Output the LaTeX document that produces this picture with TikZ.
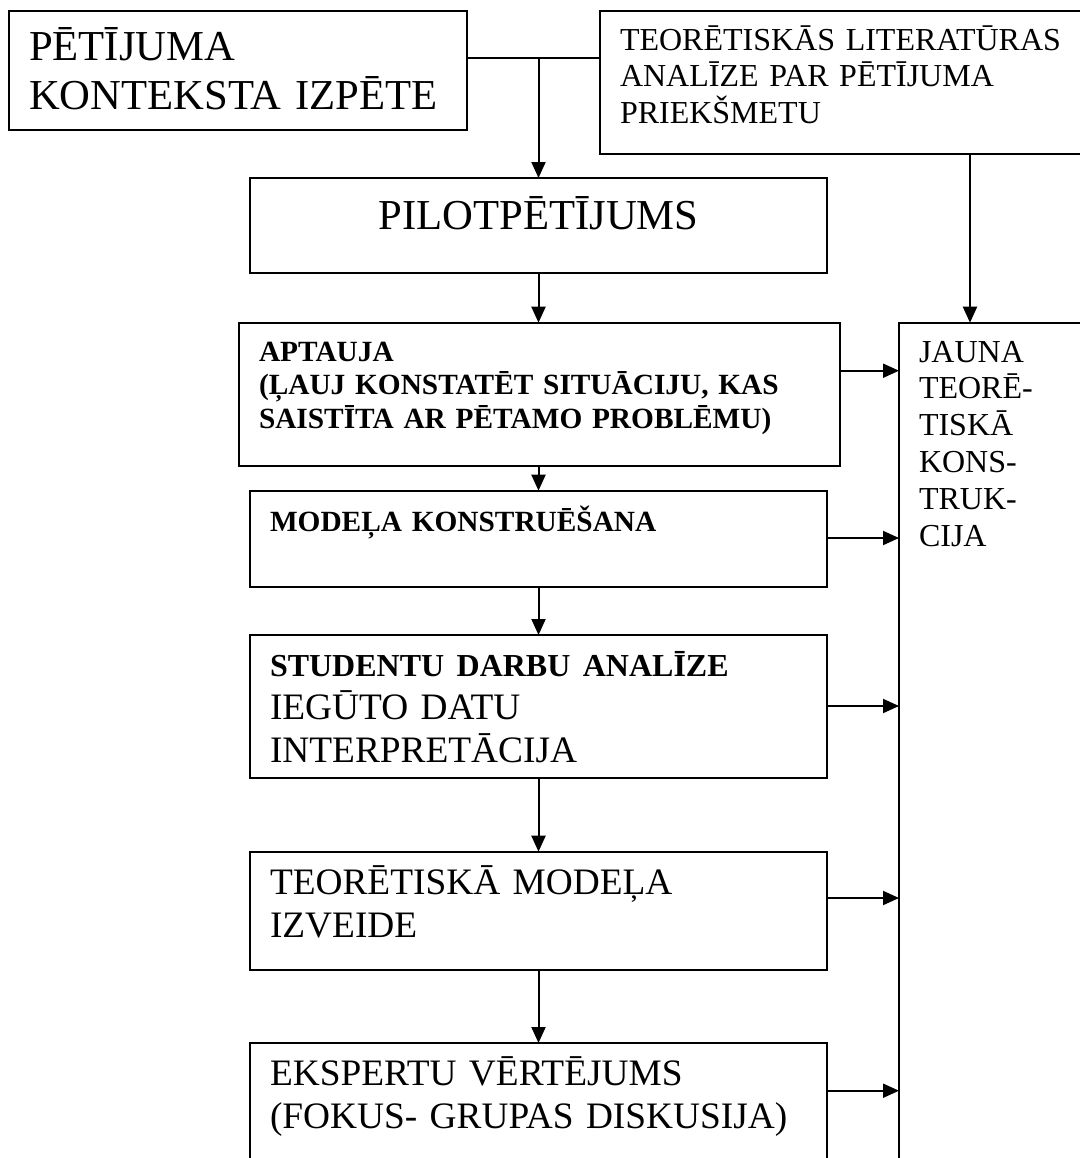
\documentclass[tikz,border=0pt]{standalone}
\usepackage{fontspec}
\setmainfont{Liberation Serif}
\usetikzlibrary{arrows.meta, positioning}

\begin{document}
\begin{tikzpicture}[
    stage/.style={rectangle, draw=black, line width=1pt, inner xsep=10pt, inner ysep=0pt, outer sep=0pt, align=left},
    bigtext/.style={font=\fontsize{21.33}{24.5}\selectfont},
    midtext/.style={font=\fontsize{18.67}{21.5}\selectfont},
    plaintext/.style={font=\fontsize{16}{18.4}\selectfont},
    boldtext/.style={font=\fontsize{14.67}{16.9}\selectfont\bfseries},
    link/.style={line width=1pt},
    flow/.style={link, -{Triangle[length=8pt, width=7pt]}}
]
    \path[use as bounding box, clip] (0,0) rectangle (540pt,-579pt);
    \node[stage, bigtext, anchor=north west, text width=209pt, text height=24.5pt, text depth=35pt] (kont) at (4.5pt,-5.5pt) {PĒTĪJUMA\\KONTEKSTA IZPĒTE};
    \node[stage, plaintext, right=66.5pt of kont.north east, anchor=north west, text width=240pt, text height=19.5pt, text depth=52pt] (lit) {TEORĒTISKĀS LITERATŪRAS\\ANALĪZE PAR PĒTĪJUMA\\PRIEKŠMETU};
    \node[stage, bigtext, align=center, below right=24pt and 120.5pt of kont.south west, text width=268.5pt, text height=25.5pt, text depth=22pt] (pilot) {PILOTPĒTĪJUMS};
    \node[stage, boldtext, below=24.85pt of pilot, xshift=0.5pt, text width=280.5pt, text height=19.2pt, text depth=52.45pt] (aptauja) {APTAUJA\\(ĻAUJ KONSTATĒT SITUĀCIJU, KAS\\SAISTĪTA AR PĒTAMO PROBLĒMU)};
    \node[stage, boldtext, below=12.35pt of aptauja, xshift=-0.5pt, text width=268.5pt, text height=20.5pt, text depth=27.5pt] (modelis) {MODEĻA KONSTRUĒŠANA};
    \node[stage, midtext, below=24.15pt of modelis, text width=268.5pt, text height=20.9pt, text depth=50.6pt] (studenti) {{\fontsize{16}{18.4}\selectfont\bfseries STUDENTU DARBU ANALĪZE\par}IEGŪTO DATU\\INTERPRETĀCIJA};
    \node[stage, midtext, below=36.85pt of studenti, text width=268.5pt, text height=21.5pt, text depth=37.65pt] (teormod) {TEORĒTISKĀ MODEĻA\\IZVEIDE};
    \node[stage, midtext, below=36.5pt of teormod, text width=268.5pt, text height=21pt, text depth=60pt] (eksperti) {EKSPERTU VĒRTĒJUMS\\(FOKUS- GRUPAS DISKUSIJA)};
    \node[stage, plaintext, right=29.5pt of aptauja.north east, anchor=north west, text width=90pt, text height=19.7pt, text depth=420pt] (jauna) {JAUNA\\TEORĒ-\\TISKĀ\\KONS-\\TRUK-\\CIJA};
    % top junction between the two upper boxes
    \draw[link] ([yshift=6.25pt]kont.east) -- ([yshift=6.25pt]kont.east -| lit.west);
    \coordinate (split) at ([yshift=6.25pt]kont.east -| pilot.north);
    \draw[flow] (split) -- (pilot.north);
    \draw[flow] ([xshift=55pt]lit.south) -- ([xshift=55pt]lit.south |- jauna.north);
    % main column
    \draw[flow] (pilot.south) -- (pilot.south |- aptauja.north);
    \draw[flow] (aptauja.south -| pilot.south) -- (pilot.south |- modelis.north);
    \draw[flow] (modelis.south) -- (studenti.north);
    \draw[flow] (studenti.south) -- (teormod.north);
    \draw[flow] (teormod.south) -- (eksperti.north);
    % arrows into the right box
    \draw[flow] ([yshift=-24pt]aptauja.north east) -- ([yshift=-24pt]aptauja.north east -| jauna.west);
    \draw[flow] ([yshift=-23.65pt]modelis.north east) -- ([yshift=-23.65pt]modelis.north east -| jauna.west);
    \draw[flow] ([yshift=-35.5pt]studenti.north east) -- ([yshift=-35.5pt]studenti.north east -| jauna.west);
    \draw[flow] ([yshift=-23.15pt]teormod.north east) -- ([yshift=-23.15pt]teormod.north east -| jauna.west);
    \draw[flow] ([yshift=-23.85pt]eksperti.north east) -- ([yshift=-23.85pt]eksperti.north east -| jauna.west);
\end{tikzpicture}
\end{document}
